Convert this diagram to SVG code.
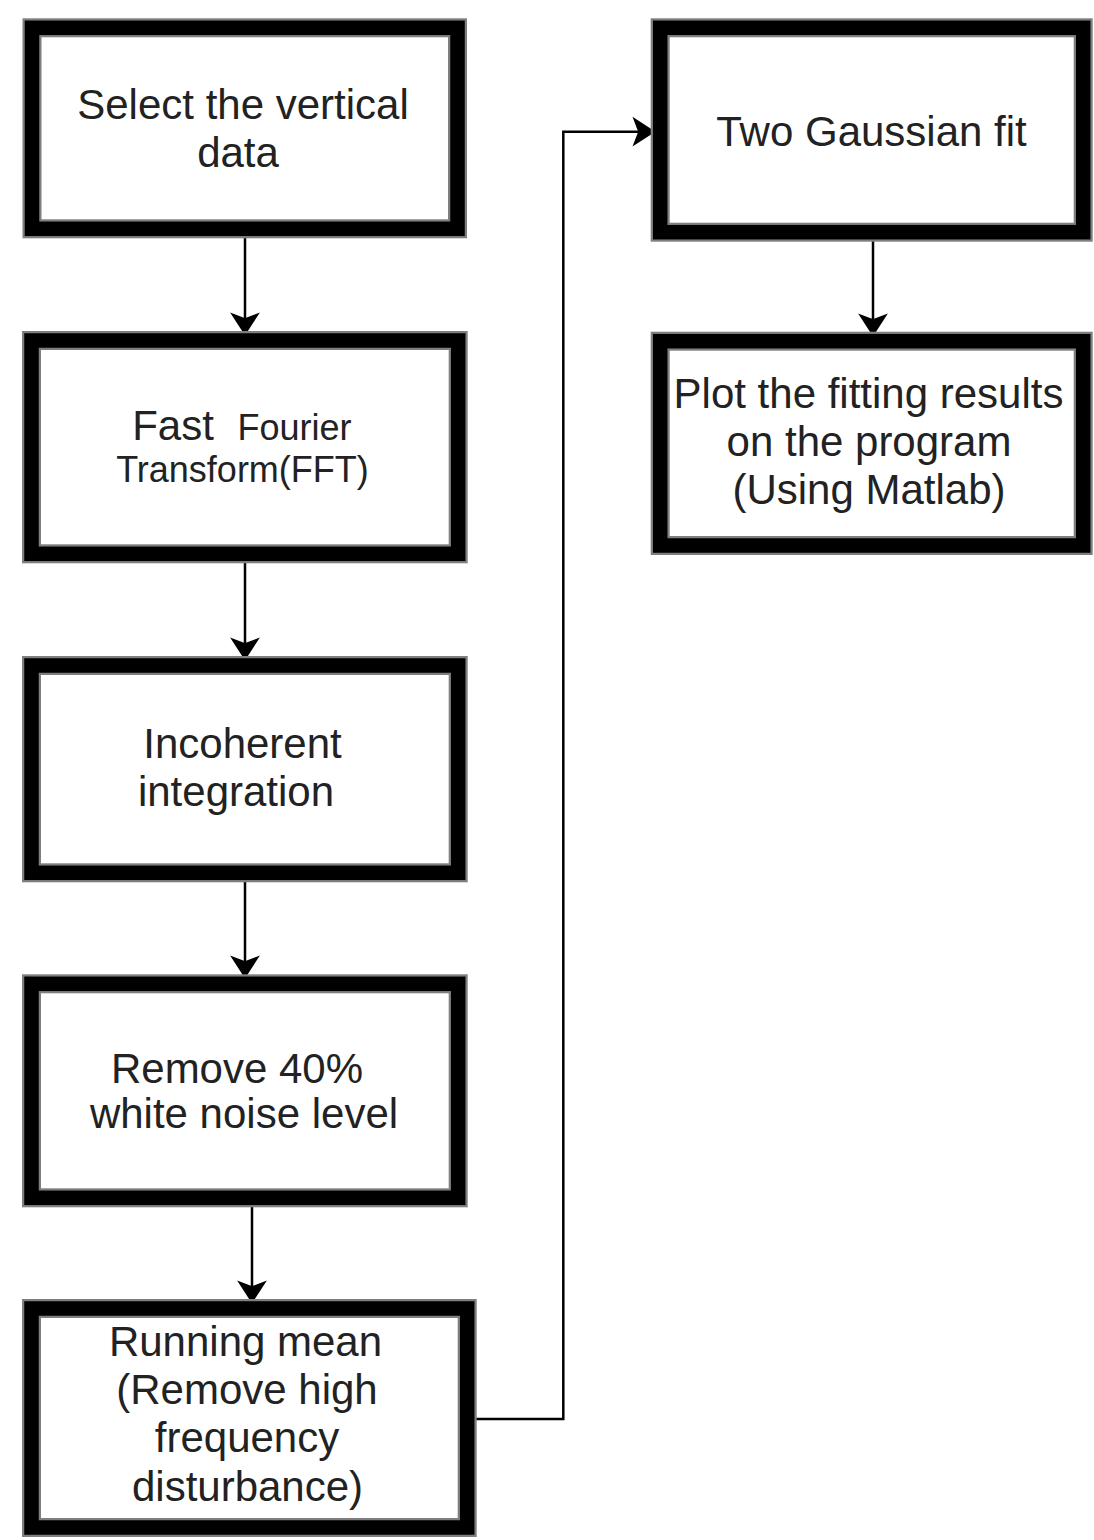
<svg xmlns="http://www.w3.org/2000/svg" width="1094" height="1540" viewBox="0 0 1094 1540">
<style>
.bo{fill:#fff;stroke:#7f7f7f;stroke-width:19}
.bi{fill:none;stroke:#000;stroke-width:14.5}
.t{font-family:"Liberation Sans",Arial,sans-serif;font-size:42px;fill:#222;text-anchor:middle}
.s{font-size:36px}
.c{fill:none;stroke:#000;stroke-width:2.5}
</style>
<defs>
<marker id="ah" markerUnits="userSpaceOnUse" markerWidth="32" markerHeight="32" viewBox="-22 -16 24 32" refX="0" refY="0" orient="auto">
<path d="M0,0 L-20,-13 L-15,0 L-20,13 Z" fill="#000" stroke="#000" stroke-width="1.5" stroke-linejoin="miter"/>
</marker>
</defs>
<rect width="1094" height="1540" fill="#fff"/>
<g id="connectors">
<path class="c" d="M245,238 V334" marker-end="url(#ah)"/>
<path class="c" d="M245,563 V659" marker-end="url(#ah)"/>
<path class="c" d="M245,882 V977" marker-end="url(#ah)"/>
<path class="c" d="M252,1207 V1302" marker-end="url(#ah)"/>
<path class="c" d="M873,241 V335" marker-end="url(#ah)"/>
<path class="c" d="M476,1419 H563.3 V131.7 H654" marker-end="url(#ah)"/>
</g>
<g id="n1">
<rect class="bo" x="32" y="27.8" width="425.5" height="201"/>
<rect class="bi" x="32" y="27.8" width="425.5" height="201"/>
<text class="t" x="243" y="119">Select the vertical</text>
<text class="t" x="238" y="167">data</text>
</g>
<g id="n2">
<rect class="bo" x="31.5" y="340.5" width="426.7" height="213.3"/>
<rect class="bi" x="31.5" y="340.5" width="426.7" height="213.3"/>
<text class="t" x="173" y="440">Fast</text>
<text class="t s" x="294.5" y="440">Fourier</text>
<text class="t s" x="242.5" y="482">Transform(FFT)</text>
</g>
<g id="n3">
<rect class="bo" x="31.5" y="665.5" width="426.7" height="207.3"/>
<rect class="bi" x="31.5" y="665.5" width="426.7" height="207.3"/>
<text class="t" x="242.5" y="758">Incoherent</text>
<text class="t" x="236" y="806">integration</text>
</g>
<g id="n4">
<rect class="bo" x="31.5" y="983.8" width="426.7" height="214"/>
<rect class="bi" x="31.5" y="983.8" width="426.7" height="214"/>
<text class="t" x="237" y="1083">Remove 40%</text>
<text class="t" x="244" y="1128">white noise level</text>
</g>
<g id="n5">
<rect class="bo" x="31.5" y="1308.5" width="435.7" height="219"/>
<rect class="bi" x="31.5" y="1308.5" width="435.7" height="219"/>
<text class="t" x="245.5" y="1356">Running mean</text>
<text class="t" x="247" y="1404">(Remove high</text>
<text class="t" x="247" y="1452">frequency</text>
<text class="t" x="247.5" y="1501">disturbance)</text>
</g>
<g id="n6">
<rect class="bo" x="660.2" y="27.8" width="423" height="204.4"/>
<rect class="bi" x="660.2" y="27.8" width="423" height="204.4"/>
<text class="t" x="871.5" y="146">Two Gaussian fit</text>
</g>
<g id="n7">
<rect class="bo" x="660.2" y="341.2" width="423" height="204.3"/>
<rect class="bi" x="660.2" y="341.2" width="423" height="204.3"/>
<text class="t" x="868.5" y="408">Plot the fitting results</text>
<text class="t" x="869" y="456">on the program</text>
<text class="t" x="869" y="504">(Using Matlab)</text>
</g>
</svg>
